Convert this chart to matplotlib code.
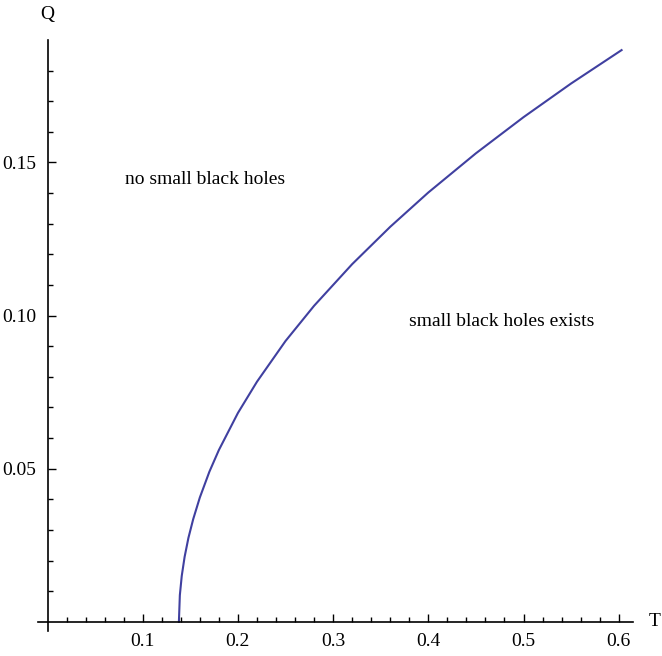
import numpy as np
import matplotlib
matplotlib.use('Agg')
import matplotlib.pyplot as plt
from matplotlib.ticker import FixedLocator

# boundary curve
T = [0.138, 0.139, 0.141, 0.144, 0.148, 0.153, 0.160, 0.170, 0.180, 0.200,
     0.220, 0.250, 0.280, 0.320, 0.360, 0.400, 0.450, 0.500, 0.550, 0.603]
Q = [0.0, 0.0087, 0.0150, 0.0212, 0.0274, 0.0335, 0.0406, 0.0490, 0.0561, 0.0682,
     0.0784, 0.0917, 0.1032, 0.1168, 0.1290, 0.1402, 0.1530, 0.1648, 0.1758, 0.1867]

x_ticks = [0.1, 0.2, 0.3, 0.4, 0.5, 0.6]
x_labels = ['0.1', '0.2', '0.3', '0.4', '0.5', '0.6']
y_ticks = [0.05, 0.10, 0.15]
y_labels = ['0.05', '0.10', '0.15']

plt.rcParams['font.family'] = ['Liberation Serif', 'DejaVu Serif']
fs = 14

fig = plt.figure(figsize=(6.62, 6.56), dpi=100)
ax = fig.add_axes([38 / 662, 25 / 656, 595 / 662, 591 / 656])

ax.plot(T, Q, color='#4040a0', lw=1.5)

ax.set_xlim(-0.01, 0.615)
ax.set_ylim(-0.003, 0.190)

ax.spines['left'].set_position(('data', 0))
ax.spines['bottom'].set_position(('data', 0))
ax.spines['top'].set_visible(False)
ax.spines['right'].set_visible(False)
for s in ['left', 'bottom']:
    ax.spines[s].set_linewidth(1.2)

ax.xaxis.set_major_locator(FixedLocator(x_ticks))
ax.set_xticklabels(x_labels)
ax.xaxis.set_minor_locator(FixedLocator([0.02 * i for i in range(1, 31)]))
ax.yaxis.set_major_locator(FixedLocator(y_ticks))
ax.set_yticklabels(y_labels)
ax.yaxis.set_minor_locator(FixedLocator([0.01 * i for i in range(1, 19)]))

ax.tick_params(which='major', direction='in', length=6, width=1.0, labelsize=fs, pad=8)
ax.tick_params(which='minor', direction='in', length=3.5, width=1.0)

ax.text(0.166, 0.1444, 'no small black holes', fontsize=fs, ha='center', va='center')
ax.text(0.477, 0.098, 'small black holes exists', fontsize=fs, ha='center', va='center')

fig.text(47 / 662, 1 - 14 / 656, 'Q', fontsize=fs, ha='center', va='center')
fig.text(655 / 662, 1 - 622 / 656, 'T', fontsize=fs, ha='center', va='center')

fig.savefig('out.png', dpi=100)
